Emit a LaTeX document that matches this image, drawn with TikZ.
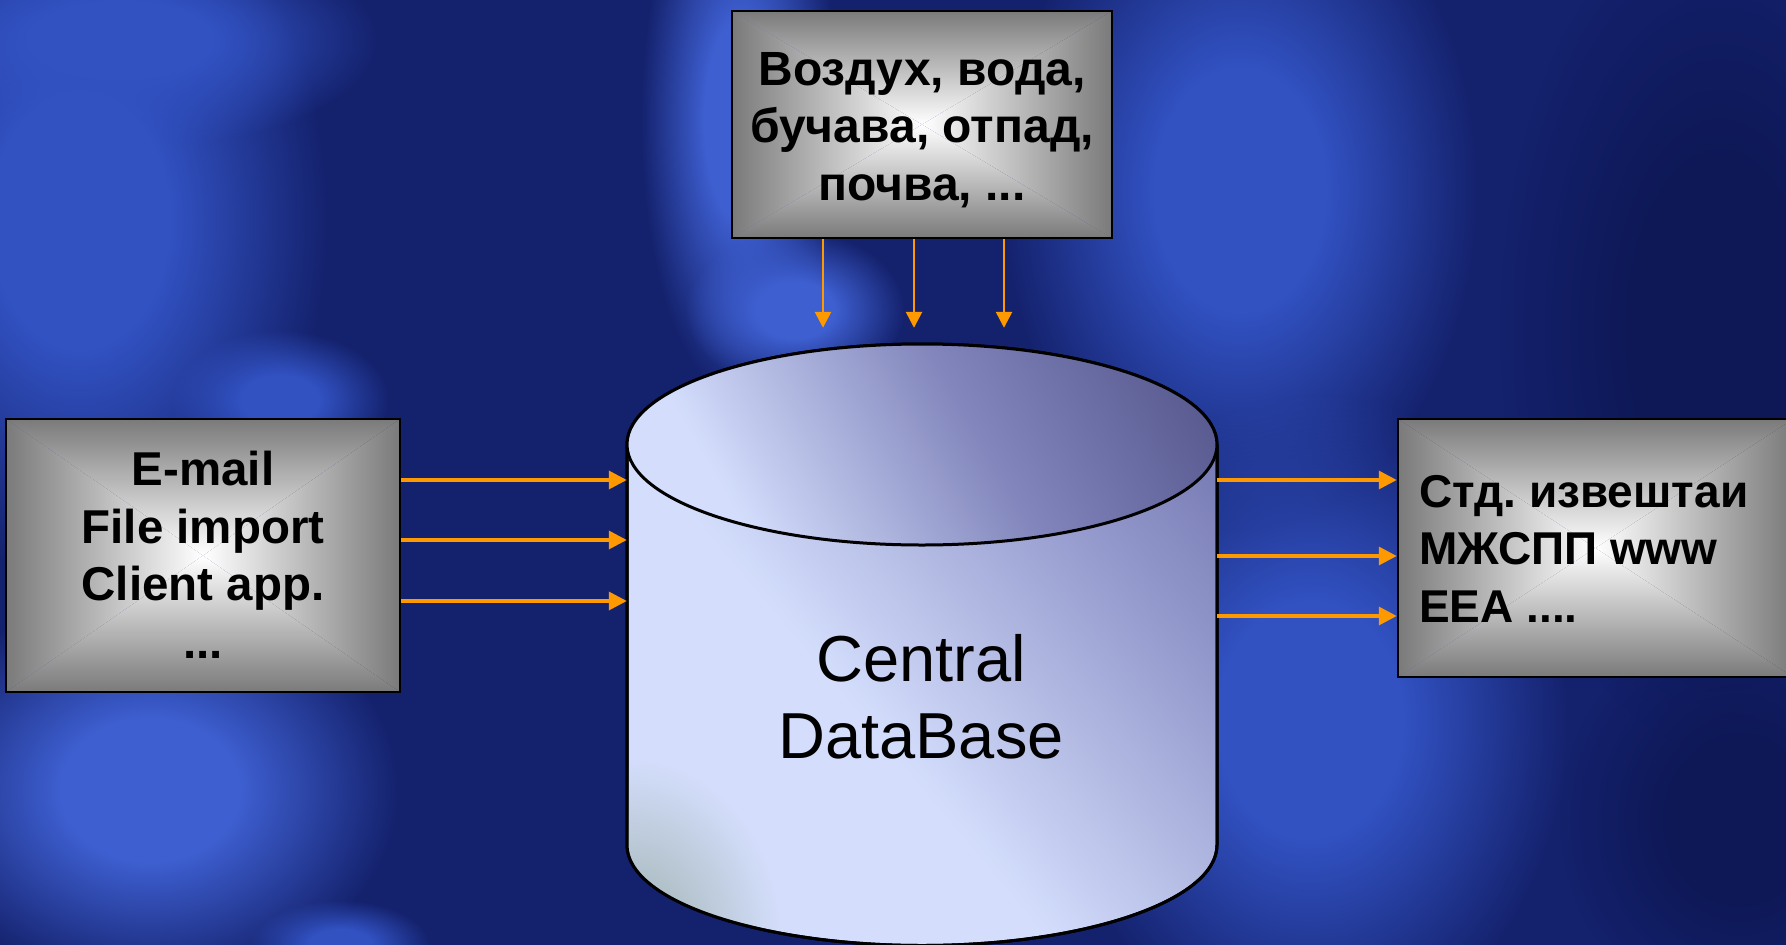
\documentclass[tikz,border=0pt]{standalone}
\usepackage{fontspec}
\setmainfont{Liberation Sans}
\frenchspacing
\usetikzlibrary{arrows.meta,fadings}
\definecolor{bgbase}{HTML}{14216C}
\definecolor{bgmid}{HTML}{3252C2}
\definecolor{bgbright}{HTML}{3E5FD0}
\definecolor{bgdark}{HTML}{0E1856}
\definecolor{boxedge}{HTML}{7A7A7A}
\definecolor{dbL}{HTML}{D4DEFC}
\definecolor{dbM}{HTML}{969CCE}
\definecolor{dbD}{HTML}{46468A}
\definecolor{dbTM}{HTML}{8286BC}
\definecolor{dbTD}{HTML}{34346A}
\definecolor{dbgrey}{HTML}{B2C2CA}
\definecolor{arrorange}{HTML}{FF9900}
\pgfdeclarehorizontalshading{dbside}{100bp}{color(0bp)=(dbL); color(42bp)=(dbL); color(66bp)=(dbM); color(100bp)=(dbD)}
\pgfdeclarehorizontalshading{dbtop}{100bp}{color(0bp)=(dbL); color(28bp)=(dbL); color(56bp)=(dbTM); color(100bp)=(dbTD)}
\pgfdeclareradialshading{plateaushading}{\pgfpointorigin}{color(0bp)=(white); color(9bp)=(white); color(25bp)=(black); color(50bp)=(black)}
\pgfdeclarefading{plateau}{\pgfuseshading{plateaushading}}
\newcommand\boxfont{\bfseries\fontsize{47.5pt}{57.5pt}\selectfont}
\newcommand\dbfont{\fontsize{65pt}{77pt}\selectfont}
\tikzset{
  blob/.style={fill=#1, path fading=plateau},
  graybox/.style={draw=black, line width=2.5pt, inner sep=0pt, path picture={
    \coordinate (pSW) at (path picture bounding box.south west);
    \coordinate (pNE) at (path picture bounding box.north east);
    \coordinate (pNW) at (path picture bounding box.north west);
    \coordinate (pSE) at (path picture bounding box.south east);
    \coordinate (pC) at (path picture bounding box.center);
    \shade[left color=boxedge, right color=white] (pSW) -- (pNW) -- (pC) -- cycle;
    \shade[left color=white, right color=boxedge] (pSE) -- (pNE) -- (pC) -- cycle;
    \shade[top color=boxedge, bottom color=white] (pNW) -- (pNE) -- (pC) -- cycle;
    \shade[top color=white, bottom color=boxedge] (pSW) -- (pSE) -- (pC) -- cycle;
  }},
  boxtext/.style={font=\boxfont, inner sep=0pt, text=black},
  arr/.style={draw=arrorange, line width=3.5pt, -{Triangle[length=18pt,width=18pt]}},
  arrthin/.style={draw=arrorange, line width=2.6pt, -{Triangle[length=16pt,width=16pt]}},
}
\begin{document}
\begin{tikzpicture}[x=1pt,y=-1pt]
\useasboundingbox (0,0) rectangle (1786,945);
% background
\fill[bgbase] (0,0) rectangle (1786,945);
\begin{scope}
\clip (0,0) rectangle (1786,945);
\path[blob=bgmid] (80,220) ellipse [x radius=250pt, y radius=360pt];
\path[blob=bgmid] (120,40) ellipse [x radius=260pt, y radius=110pt];
\path[blob=bgbright] (150,790) ellipse [x radius=250pt, y radius=200pt];
\path[blob=bgmid] (280,400) ellipse [x radius=110pt, y radius=70pt];
\path[blob=bgmid] (340,945) ellipse [x radius=90pt, y radius=45pt];
\path[blob=bgbright] (740,120) ellipse [x radius=100pt, y radius=280pt];
\path[blob=bgbright] (795,310) ellipse [x radius=110pt, y radius=80pt];
\path[blob=bgmid] (1240,190) ellipse [x radius=240pt, y radius=340pt];
\path[blob=bgmid] (1310,720) ellipse [x radius=260pt, y radius=330pt];
\path[blob=bgdark] (1720,330) ellipse [x radius=220pt, y radius=420pt];
\path[blob=bgdark] (1740,820) ellipse [x radius=180pt, y radius=200pt];
\end{scope}
% cylinder (central database)
\shade[shading=dbside, shading angle=40, draw=black, line width=3pt]
  (627,444.5) -- (627,845)
  arc[start angle=180, end angle=360, x radius=295pt, y radius=100.5pt]
  -- (1217,444.5)
  arc[start angle=0, end angle=180, x radius=295pt, y radius=100.5pt] -- cycle;
\begin{scope}
\clip (627,444.5) -- (627,845)
  arc[start angle=180, end angle=360, x radius=295pt, y radius=100.5pt]
  -- (1217,444.5) -- cycle;
\path[blob=dbgrey] (630,940) ellipse [x radius=150pt, y radius=180pt];
\end{scope}
\draw[black, line width=3pt] (627,444.5) -- (627,845)
  arc[start angle=180, end angle=360, x radius=295pt, y radius=100.5pt]
  -- (1217,444.5);
\shade[shading=dbtop, shading angle=30, draw=black, line width=3pt]
  (922,444.5) ellipse [x radius=295pt, y radius=100.5pt];
\node[inner sep=0pt, minimum width=590pt, minimum height=501pt] (db) at (922,594.5) {};
\node[font=\dbfont, align=center, inner sep=0pt] (dbtext) at (921,697) {Central\\DataBase};
% boxes
\node[graybox, minimum width=394pt, minimum height=273pt] (src) at (203,555.5) {};
\node[boxtext, align=center] (srctext) at (203,555) {E-mail\\File import\\Client app.\\...};
\node[graybox, minimum width=380pt, minimum height=227pt] (media) at (922,124.5) {};
\node[boxtext, align=center, font=\bfseries\fontsize{48pt}{57.5pt}\selectfont] (mediatext) at (922,130) {Воздух, вода,\\ бучава, отпад,\\почва, ...};
\node[graybox, minimum width=395pt, minimum height=258pt] (out) at (1595.5,548) {};
\node[boxtext, align=left, anchor=west, font=\bfseries\fontsize{46pt}{57.5pt}\selectfont] (outtext) at (1419,548.5) {Стд. извештаи\\МЖСПП www\\EEA ....};
% connectors
\draw[arr] (src.east |- 0,480) -- (db.west |- 0,480);
\draw[arr] (src.east |- 0,540) -- (db.west |- 0,540);
\draw[arr] (src.east |- 0,601) -- (db.west |- 0,601);
\draw[arrthin, shorten >=16pt] (media.south -| 823,0) -- (db.north -| 823,0);
\draw[arrthin, shorten >=16pt] (media.south -| 914,0) -- (db.north -| 914,0);
\draw[arrthin, shorten >=16pt] (media.south -| 1004,0) -- (db.north -| 1004,0);
\draw[arr] (db.east |- 0,480) -- (out.west |- 0,480);
\draw[arr] (db.east |- 0,556) -- (out.west |- 0,556);
\draw[arr] (db.east |- 0,616) -- (out.west |- 0,616);
\end{tikzpicture}
\end{document}
